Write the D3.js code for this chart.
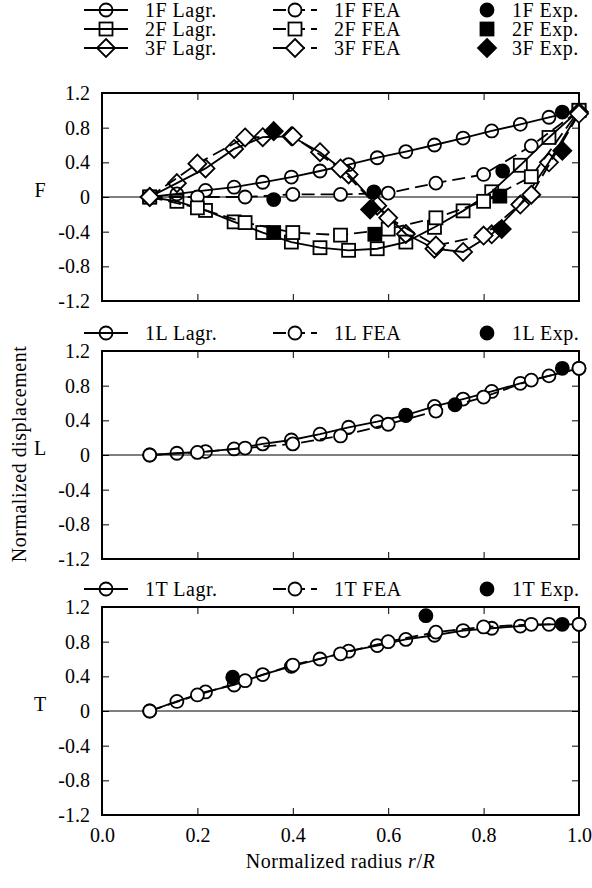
<!DOCTYPE html>
<html>
<head>
<meta charset="utf-8">
<script src="https://cdnjs.cloudflare.com/ajax/libs/d3/7.8.5/d3.min.js"></script>
<style>
  body { margin: 0; background: #fff; }
  svg { display: block; }
  text { font-family: "Liberation Serif", "DejaVu Serif", serif; font-size: 20px; fill: #000; }
  .legend text, .title { letter-spacing: 0.5px; }
</style>
</head>
<body>
<svg id="chart"></svg>
<script>
// radial stations
const xLagr = [0.1, 0.157, 0.217, 0.277, 0.337, 0.397, 0.457, 0.517, 0.577, 0.637, 0.697, 0.757, 0.817, 0.877, 0.937, 1.0];
const xFea = [0.1, 0.2, 0.3, 0.4, 0.5, 0.6, 0.7, 0.8, 0.9, 1.0];

// flapwise modes
const lagr1F = [0, 0.035, 0.076, 0.113, 0.17, 0.23, 0.30, 0.374, 0.453, 0.524, 0.60, 0.68, 0.762, 0.838, 0.92, 1.0];
const fea1F = [0, 0.0, 0.0, 0.03, 0.03, 0.045, 0.16, 0.26, 0.59, 1.0];
const exp1Fx = [0.36, 0.57, 0.84, 0.965];
const exp1Fy = [-0.03, 0.06, 0.30, 0.98];

const lagr2F = [0, -0.05, -0.155, -0.287, -0.41, -0.52, -0.585, -0.615, -0.597, -0.52, -0.35, -0.16, 0.06, 0.366, 0.687, 1.0];
const fea2F = [0, -0.125, -0.295, -0.41, -0.44, -0.37, -0.24, -0.05, 0.234, 1.0];
const exp2Fx = [0.36, 0.572, 0.834];
const exp2Fy = [-0.41, -0.43, 0.01];

const lagr3F = [0, 0.16, 0.33, 0.555, 0.69, 0.70, 0.517, 0.26, -0.1, -0.427, -0.597, -0.634, -0.43, -0.087, 0.40, 0.98];
const fea3F = [0, 0.385, 0.687, 0.70, 0.33, -0.24, -0.56, -0.445, 0.026, 0.96];
const exp3Fx = [0.36, 0.562, 0.838, 0.965];
const exp3Fy = [0.76, -0.144, -0.37, 0.535];

// lead-lag mode
const lagr1L = [0, 0.02, 0.04, 0.07, 0.128, 0.173, 0.24, 0.32, 0.385, 0.46, 0.56, 0.645, 0.733, 0.827, 0.913, 1.0];
const fea1L = [0, 0.03, 0.08, 0.128, 0.22, 0.355, 0.506, 0.668, 0.864, 1.0];
const exp1Lx = [0.637, 0.74, 0.965];
const exp1Ly = [0.456, 0.58, 1.0];

// torsion mode
const lagr1T = [0, 0.11, 0.22, 0.30, 0.42, 0.515, 0.60, 0.69, 0.755, 0.826, 0.874, 0.928, 0.955, 0.98, 1.0, 1.0];
const fea1T = [0, 0.185, 0.35, 0.53, 0.66, 0.80, 0.91, 0.97, 1.0, 1.0];
const exp1Tx = [0.274, 0.679, 0.965];
const exp1Ty = [0.39, 1.10, 1.0];

const xTicks = [0, 0.2, 0.4, 0.6, 0.8, 1.0];
const yTicks = [-1.2, -0.8, -0.4, 0, 0.4, 0.8, 1.2];

const svgWidth = 592, svgHeight = 888;
const plotLeft = 102, plotRight = 579;
const panelH = 208;
const panelTops = [93, 351, 607];

const svg = d3.select("#chart").attr("width", svgWidth).attr("height", svgHeight);
const x = d3.scaleLinear().domain([0, 1]).range([plotLeft, plotRight]);

function drawMarker(g, shape, cx, cy, style) {
    const fill = style === "exp" ? "#000" : (style === "fea" ? "#fff" : "none");
    let m;
    if (shape === "circle") {
        m = g.append("circle").attr("cx", cx).attr("cy", cy).attr("r", 6.5);
    } else if (shape === "square") {
        m = g.append("rect").attr("x", cx - 6.5).attr("y", cy - 6.5).attr("width", 13).attr("height", 13);
    } else {
        const r = 9;
        m = g.append("path").attr("d", `M${cx},${cy - r}L${cx + r},${cy}L${cx},${cy + r}L${cx - r},${cy}Z`);
    }
    m.attr("fill", fill).attr("stroke", "#000").attr("stroke-width", 1.8);
}

// legend columns: handle line start, marker centre, text start
const legendCols = [
    {x0: 84, x1: 128, tx: 145, kind: "lagr", suffix: "Lagr."},
    {x0: 273, x1: 317, tx: 334, kind: "fea", suffix: "FEA"},
    {x0: null, mx: 487, tx: 512, kind: "exp", suffix: "Exp."}
];

function drawLegend(y, items) {
    const g = svg.append("g").attr("class", "legend");
    items.forEach(function(it) {
        legendCols.forEach(function(c) {
            let mid = c.mx;
            if (c.kind !== "exp") {
                mid = (c.x0 + c.x1) / 2;
                g.append("line")
                    .attr("x1", c.x0).attr("x2", c.x1)
                    .attr("y1", y).attr("y2", y)
                    .attr("stroke", "#000").attr("stroke-width", 2)
                    .attr("stroke-dasharray", c.kind === "fea" ? "13,6" : null);
            }
            drawMarker(g, it.shape, mid, y, c.kind);
            g.append("text").attr("x", c.tx).attr("y", y).attr("dy", "0.33em")
                .text(it.name + " " + c.suffix);
        });
        y += 19;
    });
}

function drawPanel(top, label, series, showX) {
    const y = d3.scaleLinear().domain([-1.2, 1.2]).range([top + panelH, top]);
    const g = svg.append("g");
    const fmtY = d => d === 0 ? "0" : d.toFixed(1);

    // zero line
    g.append("line").attr("x1", plotLeft).attr("x2", plotRight)
        .attr("y1", y(0)).attr("y2", y(0)).attr("stroke", "#000").attr("stroke-width", 1);

    const axL = g.append("g").attr("transform", `translate(${plotLeft},0)`)
        .call(d3.axisLeft(y).tickValues(yTicks).tickSizeInner(-7).tickSizeOuter(0).tickPadding(12).tickFormat(fmtY));
    const axR = g.append("g").attr("transform", `translate(${plotRight},0)`)
        .call(d3.axisRight(y).tickValues(yTicks).tickSizeInner(-7).tickSizeOuter(0).tickFormat(""));
    const axT = g.append("g").attr("transform", `translate(0,${top})`)
        .call(d3.axisTop(x).tickValues(xTicks).tickSizeInner(-7).tickSizeOuter(0).tickFormat(""));
    const axB = g.append("g").attr("transform", `translate(0,${top + panelH})`)
        .call(d3.axisBottom(x).tickValues(xTicks).tickSizeInner(-7).tickSizeOuter(0).tickPadding(13)
            .tickFormat(showX ? (d => d.toFixed(1)) : ""));
    [axL, axR, axT, axB].forEach(function(a) {
        a.attr("font-size", null).attr("font-family", null);
        a.select(".domain").remove();
        a.selectAll(".tick line").attr("stroke-width", 1);
    });

    g.append("rect").attr("x", plotLeft).attr("y", top)
        .attr("width", plotRight - plotLeft).attr("height", panelH)
        .attr("fill", "none").attr("stroke", "#000").attr("stroke-width", 2);

    g.append("text").attr("x", 40).attr("y", y(0)).attr("text-anchor", "middle").text(label);

    const line = d3.line().x(d => x(d[0])).y(d => y(d[1]));
    series.forEach(function(s) {
        g.append("path").attr("d", line(d3.zip(xLagr, s.lagr)))
            .attr("fill", "none").attr("stroke", "#000").attr("stroke-width", 1.8);
        g.append("path").attr("d", line(d3.zip(xFea, s.fea)))
            .attr("fill", "none").attr("stroke", "#000").attr("stroke-width", 1.8)
            .attr("stroke-dasharray", "13,6");
    });
    series.forEach(function(s) {
        xLagr.forEach((xv, i) => drawMarker(g, s.shape, x(xv), y(s.lagr[i]), "lagr"));
        xFea.forEach((xv, i) => drawMarker(g, s.shape, x(xv), y(s.fea[i]), "fea"));
    });
    series.forEach(function(s) {
        s.expX.forEach((xv, i) => drawMarker(g, s.shape, x(xv), y(s.expY[i]), "exp"));
    });
}

drawLegend(10, [{name: "1F", shape: "circle"}, {name: "2F", shape: "square"}, {name: "3F", shape: "diamond"}]);
drawPanel(panelTops[0], "F", [
    {shape: "circle", lagr: lagr1F, fea: fea1F, expX: exp1Fx, expY: exp1Fy},
    {shape: "square", lagr: lagr2F, fea: fea2F, expX: exp2Fx, expY: exp2Fy},
    {shape: "diamond", lagr: lagr3F, fea: fea3F, expX: exp3Fx, expY: exp3Fy}
], false);

drawLegend(333, [{name: "1L", shape: "circle"}]);
drawPanel(panelTops[1], "L", [
    {shape: "circle", lagr: lagr1L, fea: fea1L, expX: exp1Lx, expY: exp1Ly}
], false);

drawLegend(589, [{name: "1T", shape: "circle"}]);
drawPanel(panelTops[2], "T", [
    {shape: "circle", lagr: lagr1T, fea: fea1T, expX: exp1Tx, expY: exp1Ty}
], true);

// axis titles
svg.append("text").attr("class", "title")
    .attr("transform", `translate(26,${(panelTops[0] + panelTops[2] + panelH) / 2}) rotate(-90)`)
    .attr("text-anchor", "middle")
    .text("Normalized displacement");

const xl = svg.append("text").attr("class", "title")
    .attr("x", (plotLeft + plotRight) / 2).attr("y", 868).attr("text-anchor", "middle");
xl.append("tspan").text("Normalized radius ");
xl.append("tspan").attr("font-style", "italic").text("r");
xl.append("tspan").text("/");
xl.append("tspan").attr("font-style", "italic").text("R");
</script>
</body>
</html>
